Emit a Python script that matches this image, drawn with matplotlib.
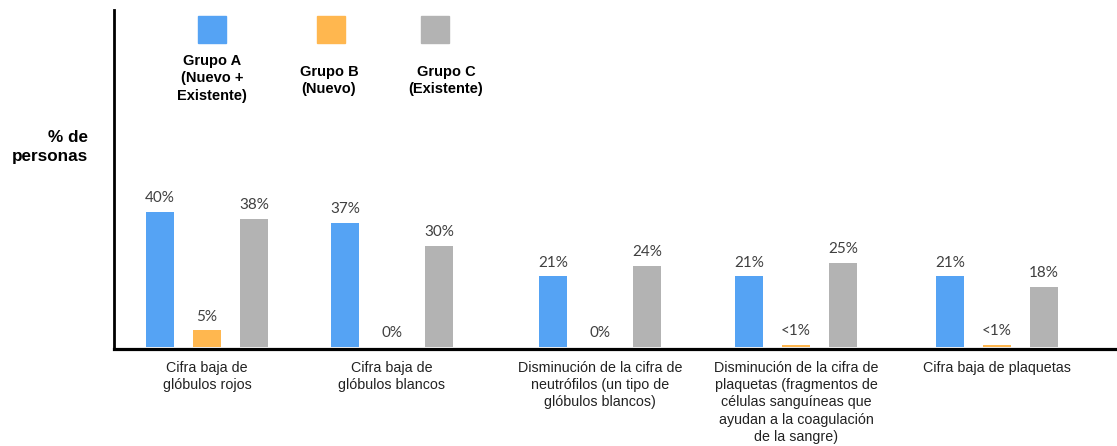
import matplotlib.pyplot as plt
from matplotlib.patches import Rectangle

# datos
categorias = [
    "Cifra baja de\nglóbulos rojos",
    "Cifra baja de\nglóbulos blancos",
    "Disminución de la cifra de\nneutrófilos (un tipo de\nglóbulos blancos)",
    "Disminución de la cifra de\nplaquetas (fragmentos de\ncélulas sanguíneas que\nayudan a la coagulación\nde la sangre)",
    "Cifra baja de plaquetas",
]
grupo_a = [40, 37, 21, 21, 21]
grupo_b = [5, 0, 0, 0.8, 0.8]
grupo_c = [38, 30, 24, 25, 18]
etiq_a = ["40%", "37%", "21%", "21%", "21%"]
etiq_b = ["5%", "0%", "0%", "<1%", "<1%"]
etiq_c = ["38%", "30%", "24%", "25%", "18%"]
nombres = ["Grupo A\n(Nuevo +\nExistente)", "Grupo B\n(Nuevo)", "Grupo C\n(Existente)"]

azul = "#55a3f4"
naranja = "#ffb74f"
gris = "#b3b3b3"

W, H = 1117, 446
fig = plt.figure(figsize=(W / 100, H / 100), dpi=100)
ax = fig.add_axes([114 / W, 1 - 349 / H, 1 - 114 / W, 339 / H])

# centros de grupo (px desde el eje)
centros = [93, 278, 486, 682, 883]
sep = 47
ancho = 28

ax.set_xlim(0, W - 114)
ax.set_ylim(-0.5, 100)

for serie, etiq, col, d in [(grupo_a, etiq_a, azul, -sep),
                            (grupo_b, etiq_b, naranja, 0),
                            (grupo_c, etiq_c, gris, sep)]:
    xs = [c + d for c in centros]
    ax.bar(xs, serie, width=ancho, color=col, zorder=2)
    for x, v, t in zip(xs, serie, etiq):
        ax.annotate(t, (x, v), xytext=(0, 5), textcoords="offset points",
                    ha="center", va="bottom", fontsize=11,
                    family=["Lato", "DejaVu Sans"], color="#404040")

for c, cat in zip(centros, categorias):
    ax.text(c, -4, cat, ha="center", va="top", fontsize=10.3,
            family="Liberation Sans", color="#222222", linespacing=1.3)

for s in ["top", "right"]:
    ax.spines[s].set_visible(False)
ax.spines["left"].set_linewidth(2)
ax.spines["bottom"].set_linewidth(2.3)
ax.set_xticks([])
ax.set_yticks([])

# leyenda manual
leg_cuadros = [198, 317, 421]
leg_textos = [(212, 54), (329, 65), (446, 65)]
for xq, (xt, yt), col, nom in zip(leg_cuadros, leg_textos, [azul, naranja, gris], nombres):
    fig.patches.append(Rectangle((xq / W, 1 - 43 / H), 28 / W, 27 / H,
                                 transform=fig.transFigure, color=col))
    fig.text(xt / W, 1 - yt / H, nom, ha="center", va="top", fontsize=10.5,
             fontweight="bold", family="Liberation Sans", linespacing=1.3)

fig.text(88 / W, 1 - 130 / H, "% de\npersonas", ha="right", va="top",
         fontsize=12.3, fontweight="bold", family="Liberation Sans", linespacing=1.3)

fig.savefig("out.png", dpi=100)
